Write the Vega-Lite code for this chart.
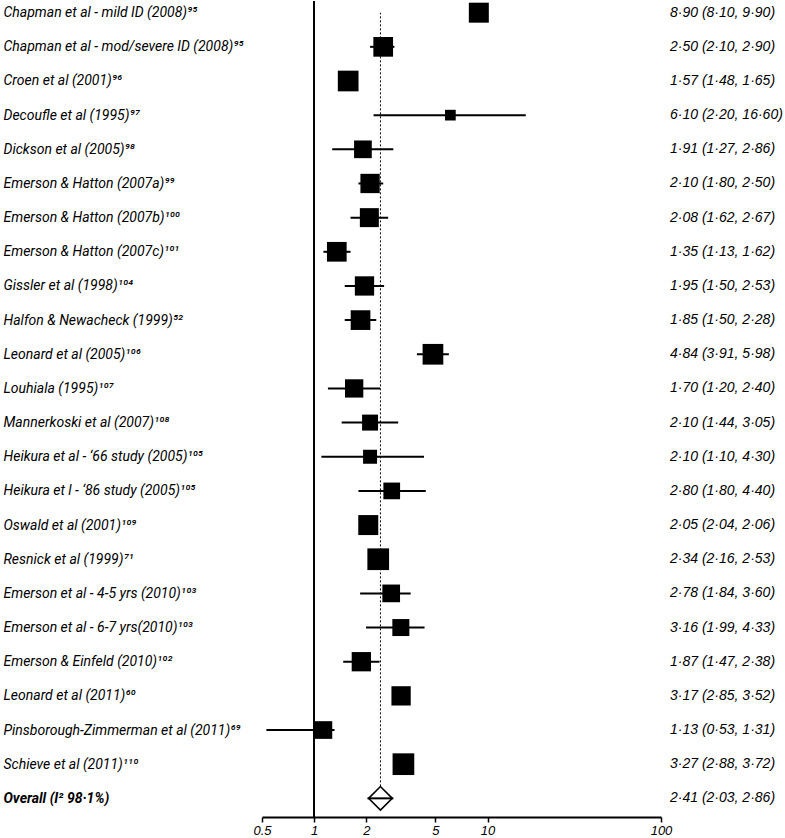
{
  "$schema": "https://vega.github.io/schema/vega-lite/v6.json",
  "width": 399,
  "height": 816,
  "padding": {"left": 3, "top": 0, "right": 0, "bottom": 0},
  "background": "white",
  "data": {
    "values": [
      {"study": "Chapman et al - mild ID (2008)⁹⁵", "type": "study", "est": 8.90, "lo": 8.10, "hi": 9.90, "weight": 4.44, "ci": "8·90 (8·10, 9·90)"},
      {"study": " Chapman et al - mod/severe ID (2008)⁹⁵", "type": "study", "est": 2.50, "lo": 2.10, "hi": 2.90, "weight": 4.31, "ci": "2·50 (2·10, 2·90)"},
      {"study": "Croen et al (2001)⁹⁶", "type": "study", "est": 1.57, "lo": 1.48, "hi": 1.65, "weight": 4.76, "ci": "1·57 (1·48, 1·65)"},
      {"study": "Decoufle et al (1995)⁹⁷", "type": "study", "est": 6.10, "lo": 2.20, "hi": 16.60, "weight": 1.27, "ci": "6·10 (2·20, 16·60)"},
      {"study": "Dickson et al (2005)⁹⁸", "type": "study", "est": 1.91, "lo": 1.27, "hi": 2.86, "weight": 3.48, "ci": "1·91 (1·27, 2·86)"},
      {"study": "Emerson & Hatton (2007a)⁹⁹", "type": "study", "est": 2.10, "lo": 1.80, "hi": 2.50, "weight": 4.14, "ci": "2·10 (1·80, 2·50)"},
      {"study": "Emerson & Hatton (2007b)¹⁰⁰", "type": "study", "est": 2.08, "lo": 1.62, "hi": 2.67, "weight": 4.01, "ci": "2·08 (1·62, 2·67)"},
      {"study": "Emerson & Hatton (2007c)¹⁰¹", "type": "study", "est": 1.35, "lo": 1.13, "hi": 1.62, "weight": 4.31, "ci": "1·35 (1·13, 1·62)"},
      {"study": "Gissler et al (1998)¹⁰⁴", "type": "study", "est": 1.95, "lo": 1.50, "hi": 2.53, "weight": 4.14, "ci": "1·95 (1·50, 2·53)"},
      {"study": "Halfon & Newacheck (1999)⁵²", "type": "study", "est": 1.85, "lo": 1.50, "hi": 2.28, "weight": 4.31, "ci": "1·85 (1·50, 2·28)"},
      {"study": "Leonard et al (2005)¹⁰⁶", "type": "study", "est": 4.84, "lo": 3.91, "hi": 5.98, "weight": 4.76, "ci": "4·84 (3·91, 5·98)"},
      {"study": "Louhiala (1995)¹⁰⁷", "type": "study", "est": 1.70, "lo": 1.20, "hi": 2.40, "weight": 3.72, "ci": "1·70 (1·20, 2·40)"},
      {"study": "Mannerkoski et al (2007)¹⁰⁸", "type": "study", "est": 2.10, "lo": 1.44, "hi": 3.05, "weight": 2.84, "ci": "2·10 (1·44, 3·05)"},
      {"study": "Heikura et al - ‘66 study (2005)¹⁰⁵", "type": "study", "est": 2.10, "lo": 1.10, "hi": 4.30, "weight": 2.18, "ci": "2·10 (1·10, 4·30)"},
      {"study": "Heikura et l - ‘86 study (2005)¹⁰⁵", "type": "study", "est": 2.80, "lo": 1.80, "hi": 4.40, "weight": 3.10, "ci": "2·80 (1·80, 4·40)"},
      {"study": "Oswald et al (2001)¹⁰⁹", "type": "study", "est": 2.05, "lo": 2.04, "hi": 2.06, "weight": 4.44, "ci": "2·05 (2·04, 2·06)"},
      {"study": "Resnick et al (1999)⁷¹", "type": "study", "est": 2.34, "lo": 2.16, "hi": 2.53, "weight": 5.23, "ci": "2·34 (2·16, 2·53)"},
      {"study": "Emerson et al - 4-5 yrs (2010)¹⁰³", "type": "study", "est": 2.78, "lo": 1.84, "hi": 3.60, "weight": 3.48, "ci": "2·78 (1·84, 3·60)"},
      {"study": "Emerson et al - 6-7 yrs(2010)¹⁰³", "type": "study", "est": 3.16, "lo": 1.99, "hi": 4.33, "weight": 3.21, "ci": "3·16 (1·99, 4·33)"},
      {"study": "Emerson & Einfeld (2010)¹⁰²", "type": "study", "est": 1.87, "lo": 1.47, "hi": 2.38, "weight": 4.14, "ci": "1·87 (1·47, 2·38)"},
      {"study": "Leonard et al (2011)⁶⁰", "type": "study", "est": 3.17, "lo": 2.85, "hi": 3.52, "weight": 4.14, "ci": "3·17 (2·85, 3·52)"},
      {"study": "Pinsborough-Zimmerman et al (2011)⁶⁹", "type": "study", "est": 1.13, "lo": 0.53, "hi": 1.31, "weight": 3.48, "ci": "1·13 (0·53, 1·31)"},
      {"study": "Schieve et al (2011)¹¹⁰", "type": "study", "est": 3.27, "lo": 2.88, "hi": 3.72, "weight": 5.23, "ci": "3·27 (2·88, 3·72)"},
      {"study": "Overall (I² 98·1%)", "type": "overall", "est": 2.41, "lo": 2.03, "hi": 2.86, "weight": null, "ci": "2·41 (2·03, 2·86)"}
    ]
  },
  "layer": [
    {
      "mark": {"type": "rule", "color": "black", "strokeWidth": 1.5},
      "encoding": {
        "x": {"datum": 1, "type": "quantitative", "scale": {"type": "log", "domain": [0.5, 100], "nice": false}, "axis": {"title": null, "values": [0.5, 1, 2, 5, 10, 100], "format": "~g"}}
      }
    },
    {
      "mark": {"type": "rule", "color": "black", "strokeWidth": 1, "strokeDash": [2, 2]},
      "encoding": {
        "x": {"field": "est", "type": "quantitative", "axis": {"title": null}},
        "y": {"field": "study", "type": "nominal", "sort": null, "scale": {"type": "point", "padding": 0.444, "align": 0.385},
              "axis": {"title": null, "labelFontWeight": {"condition": {"test": "datum.value === 'Overall (I² 98·1%)'", "value": "bold"}, "value": "normal"}}},
        "y2": {"datum": "Chapman et al - mild ID (2008)⁹⁵"},
        "opacity": {"condition": {"test": "datum.type === 'overall'", "value": 1}, "value": 0}
      }
    },
    {
      "mark": {"type": "point", "shape": "diamond", "filled": true, "fill": "white", "stroke": "black", "strokeWidth": 1.6, "size": 560},
      "encoding": {
        "x": {"field": "est", "type": "quantitative", "axis": {"title": null}},
        "y": {"field": "study", "type": "nominal", "sort": null, "axis": {"title": null}},
        "opacity": {"condition": {"test": "datum.type === 'overall'", "value": 1}, "value": 0}
      }
    },
    {
      "mark": {"type": "rule", "color": "black", "strokeWidth": 2},
      "encoding": {
        "x": {"field": "lo", "type": "quantitative", "axis": {"title": null}},
        "x2": {"field": "hi"},
        "y": {"field": "study", "type": "nominal", "sort": null, "axis": {"title": null}}
      }
    },
    {
      "mark": {"type": "square", "filled": true, "color": "black", "opacity": 1},
      "encoding": {
        "x": {"field": "est", "type": "quantitative", "axis": {"title": null}},
        "y": {"field": "study", "type": "nominal", "sort": null, "axis": {"title": null}},
        "size": {"condition": {"test": "datum.type === 'overall'", "value": 0}, "field": "weight", "type": "quantitative", "scale": {"domain": [0, 5], "range": [0, 450], "zero": true}, "legend": null}
      }
    },
    {
      "mark": {"type": "text", "align": "left", "baseline": "middle", "dx": 9, "font": "Liberation Sans", "fontSize": 14, "fontStyle": "italic", "color": "black"},
      "encoding": {
        "x": {"datum": 100, "type": "quantitative"},
        "y": {"field": "study", "type": "nominal", "sort": null, "axis": {"title": null}},
        "text": {"field": "ci"}
      }
    }
  ],
  "config": {
    "view": {"stroke": null},
    "axis": {"grid": false, "labelColor": "black", "labelFont": "Liberation Sans", "labelFontStyle": "italic", "titleColor": "black"},
    "axisX": {"domainColor": "black", "domainWidth": 2, "tickColor": "black", "tickWidth": 1.5, "tickSize": 5, "labelFontSize": 13, "labelPadding": 2, "labelFlush": false},
    "axisY": {"domain": false, "ticks": false, "labelAlign": "left", "labelPadding": 259, "labelFont": "Roboto", "labelFontSize": 14, "labelLimit": 320, "labelBaseline": "middle"}
  }
}
